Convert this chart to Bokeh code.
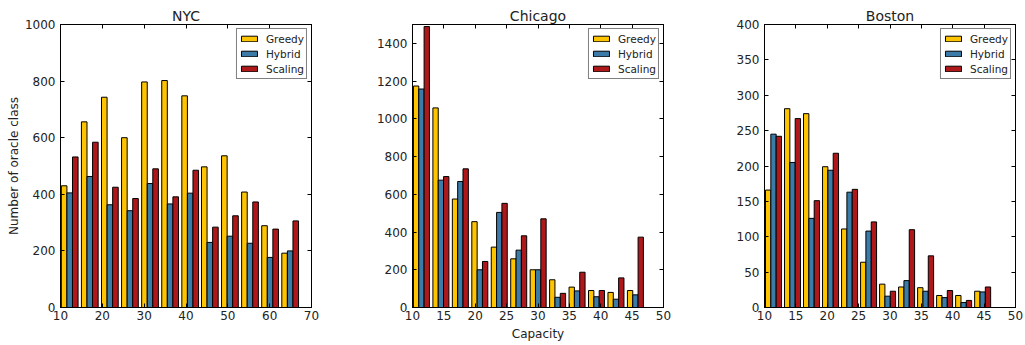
from bokeh.plotting import figure
from bokeh.layouts import row
from bokeh.models import LinearAxis, Range1d, FixedTicker, CustomJSTickFormatter
from bokeh.embed import file_html
from bokeh.resources import INLINE

series = ["Greedy", "Hybrid", "Scaling"]
colors = ["#ffc400", "#3a7ba8", "#ae181b"]

# bin left edges (capacity) of each group
nyc_capacity = [10.2, 15.0, 19.8, 24.6, 29.4, 34.2, 39.0, 43.7, 48.5, 53.3, 58.1, 62.9]
nyc_greedy = [430, 656, 743, 600, 797, 802, 748, 497, 536, 408, 289, 192]
nyc_hybrid = [405, 463, 363, 342, 438, 366, 404, 230, 252, 227, 177, 200]
nyc_scaling = [532, 584, 425, 385, 490, 391, 485, 284, 324, 373, 277, 306]

chi_capacity = [10.15, 13.25, 16.35, 19.45, 22.55, 25.65, 28.75, 31.85, 34.95, 38.05, 41.15, 44.25]
chi_greedy = [1174, 1058, 575, 455, 320, 258, 200, 147, 108, 90, 80, 90]
chi_hybrid = [1158, 675, 668, 200, 504, 304, 200, 54, 88, 57, 44, 67]
chi_scaling = [1489, 694, 735, 244, 552, 380, 470, 75, 187, 90, 157, 373]

bos_capacity = [10.16, 13.19, 16.22, 19.25, 22.28, 25.31, 28.34, 31.37, 34.4, 37.43, 40.46, 43.49]
bos_greedy = [166, 281, 274, 199, 111, 64, 33, 29, 28, 17, 17, 23]
bos_hybrid = [245, 205, 126, 194, 163, 108, 16, 38, 23, 14, 7, 22]
bos_scaling = [242, 267, 151, 218, 167, 121, 23, 110, 73, 24, 10, 29]

nyc_xticks = [10, 20, 30, 40, 50, 60, 70]
nyc_yticks = [0, 200, 400, 600, 800, 1000]
chi_xticks = [10, 15, 20, 25, 30, 35, 40, 45, 50]
chi_yticks = [0, 200, 400, 600, 800, 1000, 1200, 1400]
bos_xticks = [10, 15, 20, 25, 30, 35, 40, 45, 50]
bos_yticks = [0, 50, 100, 150, 200, 250, 300, 350, 400]

FONT = "DejaVu Sans"


def style_axis(ax, ticks, show_labels=True):
    ax.ticker = FixedTicker(ticks=ticks)
    ax.major_tick_in = 4
    ax.major_tick_out = 0
    ax.minor_tick_in = 0
    ax.minor_tick_out = 0
    ax.major_tick_line_color = "black"
    ax.axis_line_color = "black"
    ax.major_label_text_font = FONT
    ax.major_label_text_font_size = "12px"
    ax.major_label_text_color = "#222222"
    ax.axis_label_text_font = FONT
    ax.axis_label_text_font_size = "12px"
    ax.axis_label_text_font_style = "normal"
    ax.axis_label_text_color = "#222222"
    if not show_labels:
        ax.formatter = CustomJSTickFormatter(code="return '';")
        ax.major_label_standoff = 0


def panel(title, caps, bw, vals, xr, xt, yr, yt, width, bl, br, ylabel=None, xlabel=None):
    p = figure(width=width, height=344, x_range=Range1d(*xr), y_range=Range1d(*yr),
               output_backend="svg", toolbar_location=None,
               min_border_left=bl, min_border_right=br, min_border_top=24, min_border_bottom=37,
               title=title)
    p.title.align = "center"
    p.title.text_font = FONT
    p.title.text_font_size = "14px"
    p.title.text_font_style = "normal"
    p.title.text_color = "#222222"
    p.title.standoff = 2
    p.xgrid.visible = False
    p.ygrid.visible = False
    p.outline_line_color = "black"
    p.outline_line_width = 1
    p.background_fill_color = "white"
    p.border_fill_color = "white"
    for j, (name, v) in enumerate(zip(series, vals)):
        xs = [c + (j + 0.5) * bw for c in caps]
        p.vbar(x=xs, top=v, bottom=0, width=bw, fill_color=colors[j],
               line_color="black", line_width=1, legend_label=name)
    style_axis(p.xaxis[0], xt)
    style_axis(p.yaxis[0], yt)
    p.xaxis[0].major_label_standoff = 3
    p.yaxis[0].major_label_standoff = 5
    if ylabel:
        p.yaxis[0].axis_label = ylabel
        p.yaxis[0].axis_label_standoff = 1
    if xlabel:
        p.xaxis[0].axis_label = xlabel
        p.xaxis[0].axis_label_standoff = 4
    top = LinearAxis()
    style_axis(top, xt, False)
    p.add_layout(top, "above")
    right = LinearAxis()
    style_axis(right, yt, False)
    p.add_layout(right, "right")
    lg = p.legend[0]
    lg.location = "top_right"
    lg.border_line_color = "black"
    lg.border_line_width = 1
    lg.padding = 2
    lg.spacing = 0
    lg.margin = 4
    lg.glyph_width = 20
    lg.glyph_height = 7
    lg.label_height = 15
    lg.label_standoff = 7
    lg.label_text_font = FONT
    lg.label_text_font_size = "10.5px"
    lg.label_text_color = "#222222"
    lg.background_fill_alpha = 1
    return p


p1 = panel("NYC", nyc_capacity, 4.0 / 3, [nyc_greedy, nyc_hybrid, nyc_scaling],
           (10, 70), nyc_xticks, (0, 1000), nyc_yticks, 340, 60, 29,
           ylabel="Number of oracle class")
p2 = panel("Chicago", chi_capacity, 0.85, [chi_greedy, chi_hybrid, chi_scaling],
           (10, 50), chi_xticks, (0, 1500), chi_yticks, 341, 72, 18,
           xlabel="Capacity")
p3 = panel("Boston", bos_capacity, 0.85, [bos_greedy, bos_hybrid, bos_scaling],
           (10, 50), bos_xticks, (0, 400), bos_yticks, 343, 83, 9)

layout = row(p1, p2, p3)
open("out.html", "w").write(file_html(layout, INLINE))
